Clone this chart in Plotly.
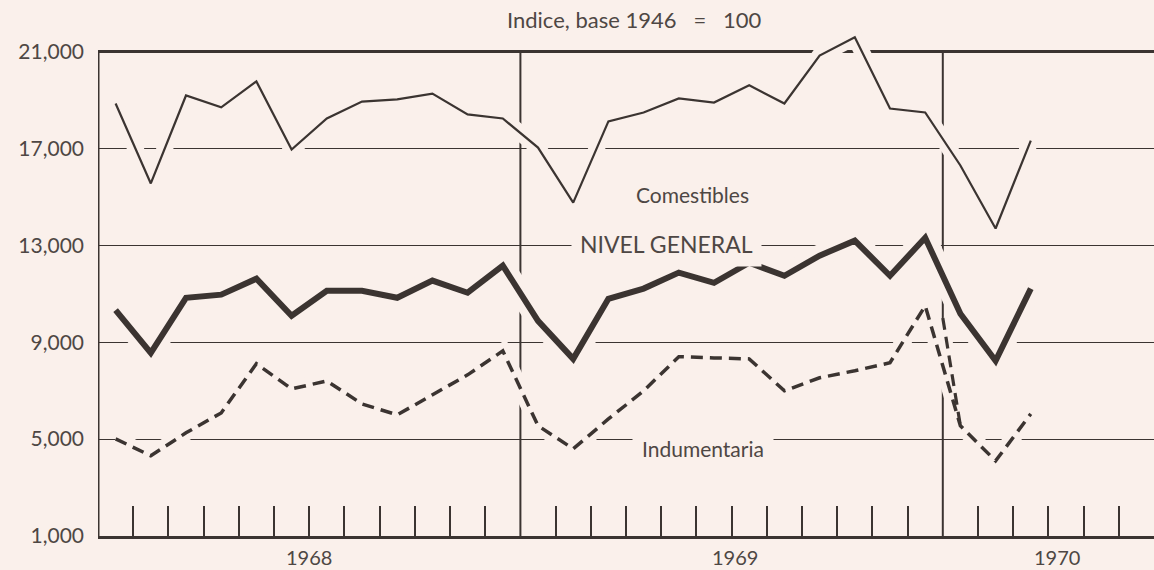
import plotly.graph_objects as go

months = ["1968-01", "1968-02", "1968-03", "1968-04", "1968-05", "1968-06",
          "1968-07", "1968-08", "1968-09", "1968-10", "1968-11", "1968-12",
          "1969-01", "1969-02", "1969-03", "1969-04", "1969-05", "1969-06",
          "1969-07", "1969-08", "1969-09", "1969-10", "1969-11", "1969-12",
          "1970-01", "1970-02", "1970-03"]
comestibles = [18850, 15550, 19180, 18690, 19760, 16950, 18230, 18930, 19020, 19260, 18400, 18230,
               17030, 14760, 18110, 18480, 19060, 18890, 19600, 18850, 20830, 21580, 18640, 18480,
               16290, 13690, 17320]
nivel_general = [10320, 8560, 10830, 10960, 11620, 10090, 11120, 11120, 10830, 11540, 11040, 12160,
                 9880, 8310, 10790, 11210, 11870, 11450, 12280, 11740, 12570, 13190, 11740, 13310,
                 10170, 8230, 11210]
indumentaria = [5010, 4310, 5260, 6080, 8110, 7070, 7400, 6450, 6000, 6830, 7650, 8640,
                5550, 4600, 5830, 6990, 8400, 8350, 8310, 6990, 7530, 7820, 8150, 10500,
                5550, 4100, 6040]
# second stroke of Indumentaria drawn from the 1969/1970 boundary into Jan 1970
indumentaria_enlace = [10000, 5550]
years = ["1968", "1969", "1970"]
y_ticks = [1000, 5000, 9000, 13000, 17000, 21000]
y_ticktext = ["1,000", "5,000", "9,000", "13,000", "17,000", "21,000"]

BG = "#FAF0EB"
INK = "#3B3431"
TXT = "#4E4744"
FONT = "Lato"
NB = "\u00a0"

x = list(range(len(months)))
jan70 = months.index("1970-01")
x_enlace = [jan70 - 0.5, jan70]

fig = go.Figure()

# background-coloured halos that break the grid where lines cross (as in print)
for xs, ys, w in [(x, comestibles, 16), (x, nivel_general, 22), (x, indumentaria, 16),
                  (x_enlace, indumentaria_enlace, 12)]:
    fig.add_trace(go.Scatter(x=xs, y=ys, mode="lines", hoverinfo="skip",
                             line=dict(color=BG, width=w), showlegend=False))

fig.add_trace(go.Scatter(x=x, y=comestibles, mode="lines", name="Comestibles",
                         line=dict(color=INK, width=2.2), showlegend=False))
fig.add_trace(go.Scatter(x=x, y=nivel_general, mode="lines", name="NIVEL GENERAL",
                         line=dict(color=INK, width=6), showlegend=False))
fig.add_trace(go.Scatter(x=x, y=indumentaria, mode="lines", name="Indumentaria",
                         line=dict(color=INK, width=3.5, dash="12px,7px"), showlegend=False))
fig.add_trace(go.Scatter(x=x_enlace, y=indumentaria_enlace, mode="lines", name="Indumentaria",
                         line=dict(color=INK, width=3.2, dash="12px,7px"), showlegend=False))

shapes = []
# top frame
shapes.append(dict(type="line", xref="paper", yref="y", x0=0, x1=1, y0=21000, y1=21000,
                   line=dict(color=INK, width=3), layer="below"))
# left axis
shapes.append(dict(type="line", xref="x", yref="y", x0=-0.5, x1=-0.5, y0=1000, y1=21000,
                   line=dict(color=INK, width=3), layer="above"))
# year separators
for xb in [11.5, 23.5]:
    shapes.append(dict(type="line", xref="x", yref="y", x0=xb, x1=xb, y0=1000, y1=21000,
                       line=dict(color=INK, width=2), layer="below"))

tickvals = [k + 0.5 for k in range(29) if k + 0.5 not in (11.5, 23.5)]

title_text = "Indice," + NB + "base" + NB + "1946" + NB * 3 + "=" + NB * 3 + "100"
annotations = [
    dict(text=title_text, x=0.5085, xref="paper",
         y=1.0, yref="paper", yanchor="bottom", yshift=-3, showarrow=False,
         font=dict(family=FONT, size=22, color=TXT)),
    dict(text="Comestibles", x=16.4, y=15100, xref="x", yref="y", showarrow=False,
         font=dict(family=FONT, size=21, color=TXT)),
    dict(text="NIVEL" + NB + "GENERAL", x=15.65, y=13050, xref="x", yref="y",
         showarrow=False, font=dict(family=FONT, size=23, color=TXT),
         bgcolor=BG, borderpad=8),
    dict(text="Indumentaria", x=16.7, y=4620, xref="x", yref="y", showarrow=False,
         font=dict(family=FONT, size=21, color=TXT), bgcolor=BG, borderpad=9),
]
for yr, xv in zip(years, [5.5, 17.6, 26.75]):
    annotations.append(dict(text=yr, x=xv, xref="x", y=-0.014, yref="paper",
                            yanchor="top", showarrow=False,
                            font=dict(family=FONT, size=20, color=TXT)))

fig.update_layout(
    width=1154, height=570,
    margin=dict(l=98, r=0, t=32, b=34),
    paper_bgcolor=BG, plot_bgcolor=BG,
    shapes=shapes, annotations=annotations,
    xaxis=dict(range=[-0.5, 29.5], showgrid=False, zeroline=False,
               showline=True, linecolor=INK, linewidth=3,
               tickmode="array", tickvals=tickvals, ticktext=[""] * len(tickvals),
               ticks="inside", ticklen=30, tickwidth=1.5, tickcolor=INK),
    yaxis=dict(range=[1000, 21800], showgrid=True, gridcolor=INK, gridwidth=1.3,
               zeroline=False, showline=False,
               tickmode="array", tickvals=y_ticks, ticktext=y_ticktext,
               ticks="", ticklabelstandoff=13,
               tickfont=dict(family=FONT, size=21, color=TXT)),
)

fig.write_html("out.html", config={"displayModeBar": False},
               post_script="document.body.style.margin='0';document.body.style.background='%s';" % BG)
